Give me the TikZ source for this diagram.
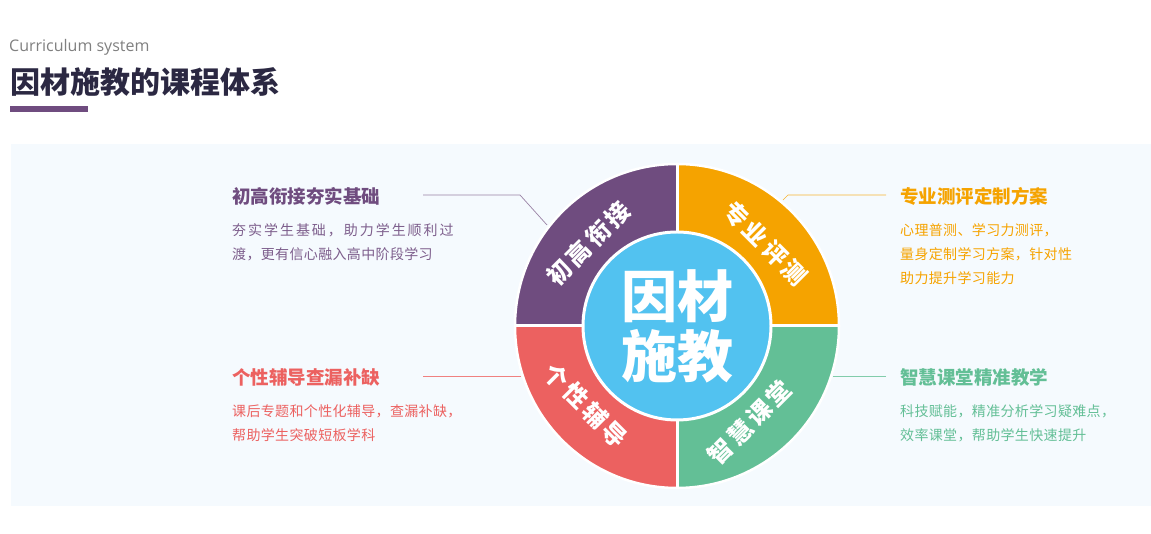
\documentclass[tikz,border=0pt]{standalone}
\usepackage{fontspec}
\setmainfont{Noto Sans CJK SC}
\newfontfamily\latinfont{Open Sans}
\newfontfamily\spacedfont{Noto Sans CJK SC}[LetterSpace=2.5]
\newfontfamily\widefont{Noto Sans CJK SC}[LetterSpace=14]
\newfontfamily\ringfont{Noto Sans CJK SC}[LetterSpace=14]
\usepackage{tikz}
\usetikzlibrary{positioning}

\definecolor{purpleseg}{HTML}{6F4C7F}
\definecolor{orangeseg}{HTML}{F5A300}
\definecolor{redseg}{HTML}{EC6160}
\definecolor{greenseg}{HTML}{63BF96}
\definecolor{bluecore}{HTML}{52C2F0}
\definecolor{panelbg}{HTML}{F5FAFE}
\definecolor{titleink}{HTML}{2B2842}

\begin{document}
\begin{tikzpicture}[
    x=1pt, y=1pt,
    heading/.style={anchor=west, inner sep=0pt, font=\bfseries\fontsize{18.5}{20}\selectfont},
    body/.style={anchor=west, inner sep=0pt, align=left, font=\spacedfont\fontsize{14}{24}\selectfont},
    ringtext/.style={inner sep=0pt, text=white, font=\ringfont\bfseries\fontsize{24}{24}\selectfont},
    core/.style={circle, fill=bluecore, draw=white, line width=3pt, minimum size=188pt, inner sep=0pt, align=center, text=white, font=\bfseries\fontsize{56}{60}\selectfont},
    link/.style={line width=0.7pt}
]
\useasboundingbox (0,0) rectangle (1151,534);
\fill[white] (0,0) rectangle (1151,534);

% Title
\node[anchor=west, inner sep=0pt, text=black!50, font=\latinfont\fontsize{16}{18}\selectfont] (sub) at (9,487) {Curriculum system};
\node[anchor=west, inner sep=0pt, text=titleink, font=\bfseries\fontsize{30}{32}\selectfont] (title) at (10,452) {因材施教的课程体系};
\fill[purpleseg] (10,422) rectangle (88,428);

% Panel
\fill[panelbg] (11,27.5) rectangle (1151,390);

% Ring
\begin{scope}[shift={(677,208)}]
\fill[purpleseg] (0,0) -- (90:162) arc[start angle=90, end angle=180, radius=162] -- cycle;
\fill[orangeseg] (0,0) -- (0:162) arc[start angle=0, end angle=90, radius=162] -- cycle;
\fill[redseg] (0,0) -- (180:162) arc[start angle=180, end angle=270, radius=162] -- cycle;
\fill[greenseg] (0,0) -- (270:162) arc[start angle=270, end angle=360, radius=162] -- cycle;
\draw[white, line width=3pt] (0,-163) -- (0,163) (-163,0) -- (163,0);
\draw[white, line width=2.5pt] (0,0) circle[radius=162];
\node[core] (center) at (0,0) {因材\\施教};
\node[ringtext, rotate=45] (seg1) at (137:121) {初高衔接};
\node[ringtext, rotate=-45] (seg2) at (43:121) {专业评测};
\node[ringtext, rotate=-45] (seg3) at (221:121) {个性辅导};
\node[ringtext, rotate=45] (seg4) at (307:121) {智慧课堂};
\end{scope}

% Texts
\node[heading, text=purpleseg] (tlhead) at (232,338) {初高衔接夯实基础};
\node[body, text=purpleseg!90] (tlbody) at (232,292) {{\widefont 夯实学生基础，助力学生顺利过}\\渡，更有信心融入高中阶段学习};
\node[heading, text=orangeseg] (trhead) at (900,338) {专业测评定制方案};
\node[body, text=orangeseg] (trbody) at (900,280) {心理普测、学习力测评，\\量身定制学习方案，针对性\\助力提升学习能力};
\node[heading, text=redseg] (blhead) at (232,157) {个性辅导查漏补缺};
\node[body, text=redseg] (blbody) at (232,111) {课后专题和个性化辅导，查漏补缺，\\帮助学生突破短板学科};
\node[heading, text=greenseg] (brhead) at (900,157) {智慧课堂精准教学};
\node[body, text=greenseg] (brbody) at (900,111) {科技赋能，精准分析学习疑难点，\\效率课堂，帮助学生快速提升};

% Links
\coordinate (tlstart) at (423,339);
\coordinate (tlknee) at (520,339);
\coordinate (tlend) at (547,309);
\coordinate (trstart) at (886,339);
\coordinate (trknee) at (788,339);
\coordinate (trend) at (783,334);
\coordinate (blstart) at (423,158);
\coordinate (blend) at (521,158);
\coordinate (brstart) at (886,158);
\coordinate (brend) at (833,158);
\draw[link, purpleseg!70] (tlstart) -- (tlknee) -- (tlend);
\draw[link, orangeseg!80] (trstart) -- (trknee) -- (trend);
\draw[link, redseg!80] (blstart) -- (blend);
\draw[link, greenseg!80] (brstart) -- (brend);

\end{tikzpicture}
\end{document}
